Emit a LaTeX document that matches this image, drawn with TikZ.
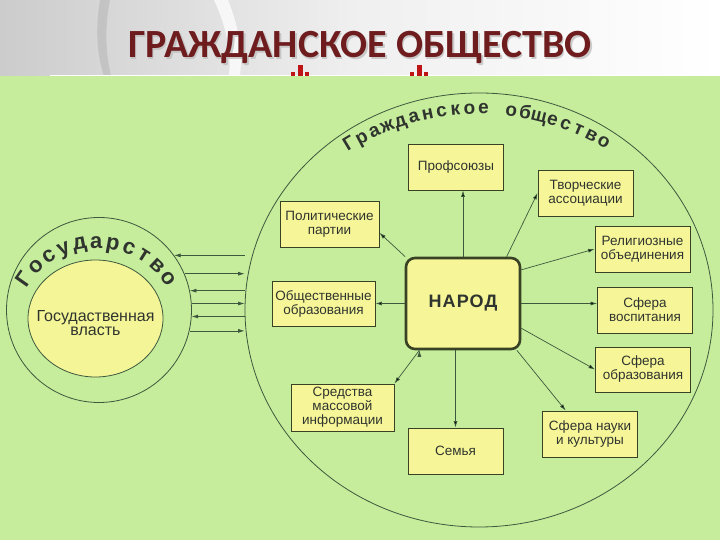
\documentclass[tikz,border=0pt]{standalone}
\usepackage{fontspec}
\setmainfont{Liberation Sans}
\newfontfamily\titlefont{Carlito}
\usetikzlibrary{arrows.meta,shapes.geometric}
\definecolor{field}{RGB}{197,237,155}
\definecolor{paper}{RGB}{246,246,152}
\definecolor{sun}{RGB}{243,245,150}
\definecolor{wire}{RGB}{62,88,62}
\definecolor{frame}{RGB}{58,66,38}
\definecolor{ink}{RGB}{48,52,46}
\definecolor{titlered}{RGB}{110,28,30}
\definecolor{markred}{RGB}{190,20,20}
\tikzset{
  >={Latex[length=6.5pt,width=4pt]},
  {unit/.style}={rectangle, draw=frame, fill=paper, line width=.9pt,
                 minimum width=95pt, minimum height=46pt, inner sep=1pt,
                 align=center, text=ink, font=\fontsize{13.5}{14}\selectfont},
  {core/.style}={unit, rounded corners=9pt, line width=2.6pt,
                 minimum width=114pt, minimum height=91pt,
                 font=\fontsize{18}{20}\selectfont\bfseries\addfontfeature{LetterSpace=6}},
  {link/.style}={->, draw=wire, line width=.7pt},
  {ring/.style}={draw=wire, line width=.8pt, inner sep=0},
  {arc letter/.style}={text=ink, inner sep=0, anchor=base,
                 font=\fontsize{#1}{#1}\selectfont\bfseries},
}
\begin{document}
\begin{tikzpicture}[x=1pt,y=1pt]
\useasboundingbox (0,0) rectangle (720,540);
% banner and panel
\shade[left color=gray!40, right color=white, middle color=gray!12] (0,464) rectangle (720,540);
\fill[gray!60, opacity=.5] (100,540) .. controls (95,510) and (97,485) .. (104,464)
  -- (111,464) .. controls (105,490) and (105,515) .. (110,540) -- cycle;
\fill[white, opacity=.75] (214,540) .. controls (228,510) and (231,485) .. (229,464)
  -- (240,464) .. controls (243,490) and (238,515) .. (228,540) -- cycle;
\fill[field] (0,0) rectangle (720,464);
\draw[white, line width=1.5pt] (50,464.5) -- (720,464.5);
\node[anchor=base, text=gray!55, opacity=.7,
      font=\titlefont\bfseries\fontsize{40}{40}\selectfont] (title shadow) at (361.5,480.5) {ГРАЖДАНСКОЕ ОБЩЕСТВО};
\node[anchor=base, text=titlered,
      font=\titlefont\bfseries\fontsize{40}{40}\selectfont] (title) at (360,482) {ГРАЖДАНСКОЕ ОБЩЕСТВО};
\foreach \cx in {300,419}{
  \fill[markred] (\cx-9,464) rectangle ++(4,3.5);
  \fill[markred] (\cx-2.5,464) rectangle ++(5,11);
  \fill[markred] (\cx+5,464) rectangle ++(4,3.5);
}
% state
\node[ring, circle, minimum size=185pt] (state) at (99,230) {};
\node[ring, ellipse, fill=sun, minimum width=135pt, minimum height=117pt] (power) at (95.5,221.5) {};
\node[text=ink, align=center, font=\fontsize{16}{14}\selectfont] (power label)
  at ([yshift=-4.5pt]power.center) {Госудаственная\\власть};
\coordinate (state arc) at (97,210);
\foreach \ch [count=\i] in {Г,о,с,у,д,а,р,с,т,в,о}{
  \pgfmathsetmacro\ang{145-(\i-1)*10.9}
  \path (state arc) ++(\ang:82) node[arc letter=22, rotate=\ang-90] (st\i) {\ch};
}
% civil society
\node[ring, ellipse, minimum width=468pt, minimum height=434pt] (society) at (479,230) {};
\coordinate (society arc) at (479,180);
\foreach \ch [count=\i] in {Г,р,а,ж,д,а,н,с,к,о,е,{},о,б,щ,е,с,т,в,о}{
  \pgfmathsetmacro\ang{121-(\i-1)*3.2}
  \path (society arc) ++(\ang:246) node[arc letter=19, rotate=\ang-90] (cs\i) {\ch};
}
\node[unit] (unions) at (456,373) {Профсоюзы};
\node[unit] (arts) at (585.5,347) {Творческие\\ассоциации};
\node[unit, minimum width=99pt] (parties) at (329.5,316) {Политические\\партии};
\node[unit] (faith) at (642.5,291) {Религиозные\\объединения};
\node[unit, minimum width=103pt, minimum height=45pt] (public) at (323.5,236.5) {Общественные\\образования};
\node[unit] (upbring) at (645,230) {Сфера\\воспитания};
\node[unit, minimum height=45pt] (educ) at (643,170.5) {Сфера\\образования};
\node[unit, minimum width=103pt, minimum height=47pt] (media) at (342.5,132.5) {Средства\\массовой\\информации};
\node[unit] (family) at (455.5,89) {Семья};
\node[unit] (science) at (590,106) {Сфера науки\\и культуры};
\node[core] (people) at (463,236.5) {НАРОД};
\path[link] (people.north) edge (people.north |- unions.south)
            (people.47) edge (arts.west)
            (people.141) edge (parties.-10)
            (people.30) edge (faith.west)
            (people.west) edge (public.east)
            (people.east) edge (people.east -| upbring.west)
            (people.-23) edge (educ.west)
            (people.-41) edge (science.136)
            (family.north |- people.south) edge (family.north)
            (people.-133) edge (media.north east);
% links between state and society
\foreach \ang/\tip in {36/<-, 23/->, 12/<-, 4/->, -4/<-, -13/->}
  \draw[link, \tip] (state.\ang) -- (state.\ang -| society.west);
\end{tikzpicture}
\end{document}
